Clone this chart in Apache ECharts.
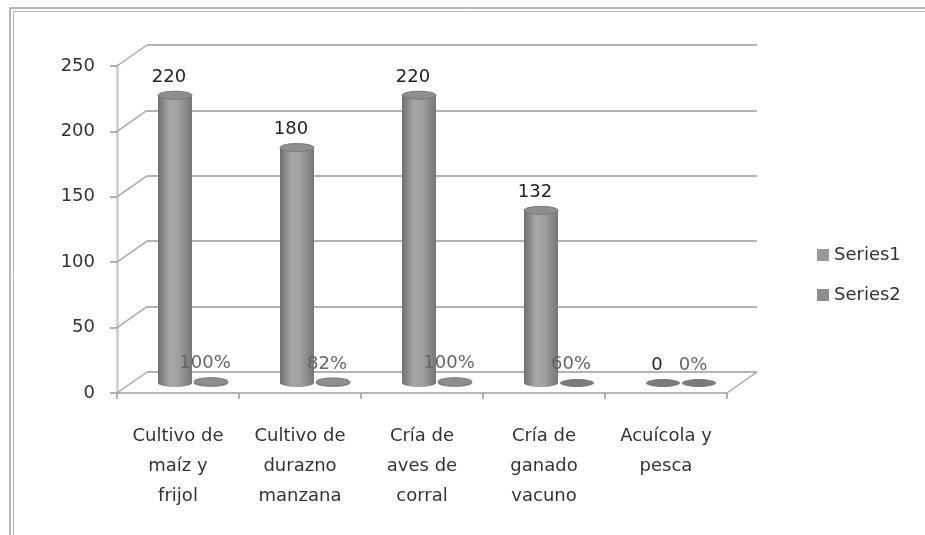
<!DOCTYPE html>
<html>
<head>
<meta charset="utf-8">
<script src="https://cdn.jsdelivr.net/npm/echarts@6/dist/echarts.min.js"></script>
<style>
  html, body { margin: 0; padding: 0; background: #fff; }
  #chart { width: 925px; height: 535px; }
</style>
</head>
<body>
<div id="chart"></div>
<script>
var categories = ['Cultivo de\nmaíz y\nfrijol', 'Cultivo de\ndurazno\nmanzana', 'Cría de\naves de\ncorral', 'Cría de\nganado\nvacuno', 'Acuícola y\npesca'];
var series1 = [220, 180, 220, 132, 0];
var series2 = [1, 0.82, 1, 0.6, 0];
var series2Labels = ['100%', '82%', '100%', '60%', '0%'];
var yTicks = [0, 50, 100, 150, 200, 250];

var FONT = 'DejaVu Sans, sans-serif';
var chart = echarts.init(document.getElementById('chart'));

// one bar pair per category, cylinder drawn by hand
function cylinder(shift, labelOf, labelColor) {
  return function (params, api) {
    var i = api.value(0), v = api.value(1);
    var base = api.coord([i, 0]);
    var top = api.coord([i, v]);
    var w = 36, rx = 17, ry = 4;
    var cx = base[0] + shift * w / 2;
    var grad = new echarts.graphic.LinearGradient(0, 0, 1, 0, [
      { offset: 0, color: '#6f6f6f' },
      { offset: 0.35, color: '#a8a8a8' },
      { offset: 0.6, color: '#a0a0a0' },
      { offset: 1, color: '#767676' }
    ]);
    var kids = [];
    if (base[1] - top[1] > 1) {
      kids.push({ type: 'ellipse', shape: { cx: cx, cy: base[1], rx: rx, ry: ry }, style: { fill: grad } });
      kids.push({ type: 'rect', shape: { x: cx - rx, y: top[1], width: rx * 2, height: base[1] - top[1] }, style: { fill: grad } });
      kids.push({ type: 'ellipse', shape: { cx: cx, cy: top[1], rx: rx, ry: ry }, style: { fill: '#8e8e8e', stroke: '#7a7a7a', lineWidth: 1 } });
    } else {
      kids.push({ type: 'ellipse', shape: { cx: cx, cy: base[1], rx: rx, ry: ry }, style: { fill: '#7b7b7b' } });
    }
    kids.push({
      type: 'text',
      style: {
        text: labelOf(params.dataIndex, v), x: cx - 6, y: top[1] - 9,
        align: 'center', verticalAlign: 'bottom',
        font: '18px ' + FONT, fill: labelColor
      }
    });
    return { type: 'group', children: kids };
  };
}

function frame(params, api) {
  var v = api.value(1);
  var y = api.coord([0, v])[1];
  var cs = params.coordSys;
  var st = { stroke: '#a8a8a8', lineWidth: 1.5 };
  var kids = [{ type: 'line', shape: { x1: cs.x, y1: y, x2: cs.x + 30, y2: y - 21 }, style: st }];
  if (v === 0) {
    kids.push({ type: 'line', shape: { x1: cs.x + cs.width, y1: y, x2: cs.x + cs.width + 30, y2: y - 21 }, style: st });
  }
  return { type: 'group', children: kids };
}

var hiddenX = { type: 'category', data: categories, show: false };
var hiddenY = { type: 'value', min: 0, max: 250, interval: 50, show: false };

var option = {
  animation: false,
  backgroundColor: '#fff',
  textStyle: { fontFamily: FONT },
  graphic: [
    { type: 'rect', shape: { x: 10, y: 8, width: 1000, height: 1000 }, style: { fill: null, stroke: '#a0a0a0', lineWidth: 1.5 } },
    { type: 'rect', shape: { x: 13.5, y: 11.5, width: 1000, height: 1000 }, style: { fill: null, stroke: '#b8b8b8', lineWidth: 1 } }
  ],
  legend: {
    orient: 'vertical',
    left: 812, top: 241,
    itemWidth: 12, itemHeight: 12, itemGap: 22,
    icon: 'rect',
    textStyle: { fontSize: 18, color: '#333', fontFamily: FONT },
    data: ['Series1', 'Series2']
  },
  grid: [
    { left: 117, right: 198, top: 66, bottom: 142 },   // front
    { left: 132, right: 183, top: 56, bottom: 152 },   // bars (mid depth)
    { left: 147, right: 168, top: 45, bottom: 163 }    // back wall
  ],
  xAxis: [
    {
      type: 'category', data: categories, gridIndex: 0,
      axisLine: { lineStyle: { color: '#b5b5b5', width: 2 } },
      axisTick: { show: true, length: 6, lineStyle: { color: '#999', width: 1.5 } },
      axisLabel: { fontSize: 18, color: '#333', lineHeight: 30, margin: 28, interval: 0, fontFamily: FONT }
    },
    Object.assign({ gridIndex: 1 }, hiddenX),
    Object.assign({ gridIndex: 2 }, hiddenX)
  ],
  yAxis: [
    {
      type: 'value', gridIndex: 0, min: 0, max: 250, interval: 50,
      axisLine: { show: true, lineStyle: { color: '#d3d3d3', width: 3 } },
      axisTick: { show: true, length: 7, lineStyle: { color: '#999', width: 1.5 } },
      axisLabel: { fontSize: 18, color: '#333', margin: 22, fontFamily: FONT },
      splitLine: { show: false }
    },
    Object.assign({ gridIndex: 1 }, hiddenY),
    {
      type: 'value', gridIndex: 2, min: 0, max: 250, interval: 50,
      axisLine: { show: false }, axisTick: { show: false }, axisLabel: { show: false },
      splitLine: { show: true, lineStyle: { color: '#999', width: 1.5 } }
    }
  ],
  series: [
    {
      type: 'custom', name: 'frame', xAxisIndex: 0, yAxisIndex: 0, silent: true, z: 1,
      renderItem: frame,
      encode: { x: 0, y: 1 },
      data: yTicks.map(function (t) { return [0, t]; })
    },
    {
      type: 'custom', name: 'Series1', xAxisIndex: 1, yAxisIndex: 1, z: 3,
      itemStyle: { color: '#9a9a9a' },
      renderItem: cylinder(-1, function (i, v) { return String(series1[i]); }, '#222'),
      encode: { x: 0, y: 1 },
      data: series1.map(function (v, i) { return [i, v]; })
    },
    {
      type: 'custom', name: 'Series2', xAxisIndex: 1, yAxisIndex: 1, z: 3,
      itemStyle: { color: '#8e8e8e' },
      renderItem: cylinder(1, function (i) { return series2Labels[i]; }, '#666'),
      encode: { x: 0, y: 1 },
      data: series2.map(function (v, i) { return [i, v]; })
    }
  ]
};

chart.setOption(option);
</script>
</body>
</html>
